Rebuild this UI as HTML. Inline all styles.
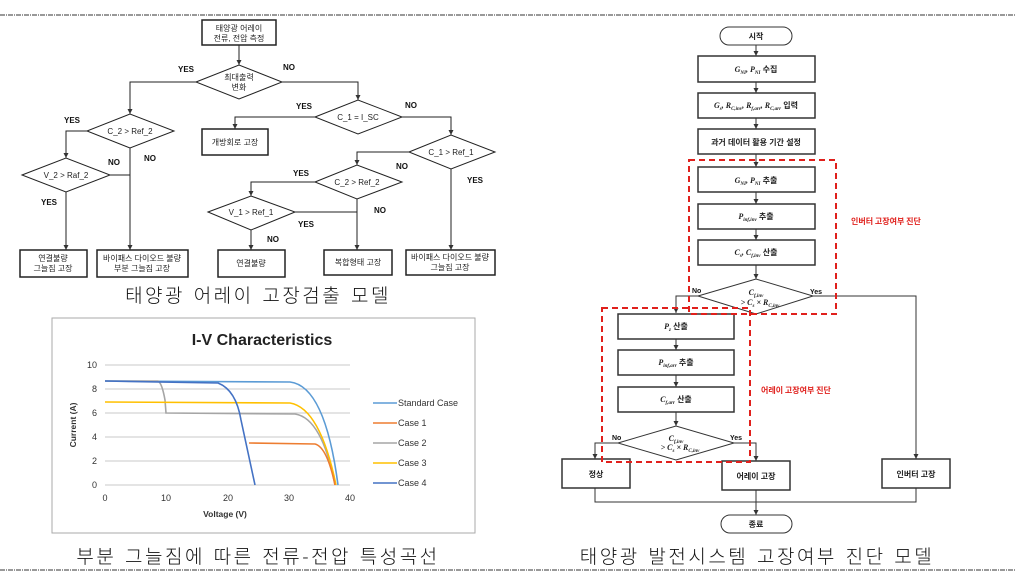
<!DOCTYPE html>
<html><head><meta charset="utf-8"><style>
body{margin:0;background:#fff}
svg{display:block}
.k{font-family:"Liberation Sans","Noto Sans CJK KR",sans-serif}
.s{font-size:8px;fill:#222}
.yn{font-size:8px;font-weight:bold;fill:#111}
.m{font-family:"Liberation Serif","Noto Sans CJK KR",serif;font-size:8px;font-style:italic;font-weight:bold}
.cap{font-family:"Noto Sans CJK KR",sans-serif;font-size:19px;font-weight:300;fill:#111;letter-spacing:2.5px;word-spacing:2px}
.red{font-family:"Noto Sans CJK KR",sans-serif;font-size:8px;fill:#e0201c;font-weight:bold}
</style></head><body>
<svg width="1015" height="579" viewBox="0 0 1015 579" xmlns="http://www.w3.org/2000/svg">
<defs><marker id="a" markerWidth="6" markerHeight="6" refX="5" refY="3" orient="auto"><path d="M0,0.5 L5,3 L0,5.5z" fill="#333"/></marker></defs>
<line x1="0" y1="15" x2="1015" y2="15" stroke="#333" stroke-dasharray="5,1,1,1"/>
<line x1="0" y1="570" x2="1015" y2="570" stroke="#333" stroke-dasharray="5,1,1,1"/>

<g fill="none" stroke="#222" stroke-width="1">
<line x1="239" y1="45" x2="239" y2="65" marker-end="url(#a)"/>
<polyline points="196,82 130,82 130,114" marker-end="url(#a)"/>
<polyline points="87,131 66,131 66,158" marker-end="url(#a)"/>
<line x1="130" y1="148" x2="130" y2="250" marker-end="url(#a)"/>
<line x1="110" y1="175" x2="130" y2="175"/>
<line x1="66" y1="192" x2="66" y2="250" marker-end="url(#a)"/>
<polyline points="282,82 358,82 358,100" marker-end="url(#a)"/>
<polyline points="315,117 235,117 235,129" marker-end="url(#a)"/>
<polyline points="402,117 451,117 451,135" marker-end="url(#a)"/>
<polyline points="409,152 357,152 357,165" marker-end="url(#a)"/>
<line x1="451" y1="169" x2="451" y2="250" marker-end="url(#a)"/>
<polyline points="315,182 251,182 251,196" marker-end="url(#a)"/>
<line x1="357" y1="199" x2="357" y2="250" marker-end="url(#a)"/>
<line x1="295" y1="212" x2="357" y2="212"/>
<line x1="251" y1="230" x2="251" y2="250" marker-end="url(#a)"/>
</g>
<g fill="#fff" stroke="#222" stroke-width="1.5">
<rect x="202" y="20" width="74" height="25"/>
<polygon points="196,82 239,65 282,82 239,99" stroke-width="1"/>
<polygon points="87,131 130,114 174,131 130,148" stroke-width="1"/>
<polygon points="22,175 66,158 110,175 66,192" stroke-width="1"/>
<polygon points="315,117 358,100 402,117 358,134" stroke-width="1"/>
<polygon points="409,152 451,135 495,152 451,169" stroke-width="1"/>
<polygon points="315,182 357,165 402,182 357,199" stroke-width="1"/>
<polygon points="208,212 251,196 295,212 251,230" stroke-width="1"/>
<rect x="202" y="129" width="66" height="26"/>
<rect x="20" y="250" width="67" height="27"/>
<rect x="97" y="250" width="91" height="27"/>
<rect x="218" y="250" width="67" height="27"/>
<rect x="324" y="250" width="68" height="25"/>
<rect x="406" y="250" width="89" height="25"/>
</g>
<g class="k s" text-anchor="middle">
<text x="239" y="31">태양광 어레이</text><text x="239" y="41">전류, 전압 측정</text>
<text x="239" y="80">최대출력</text><text x="239" y="90">변화</text>
<text x="130" y="134">C_2 &gt; Ref_2</text>
<text x="66" y="178">V_2 &gt; Raf_2</text>
<text x="358" y="120">C_1 = I_SC</text>
<text x="451" y="155">C_1 &gt; Ref_1</text>
<text x="357" y="185">C_2 &gt; Ref_2</text>
<text x="251" y="215">V_1 &gt; Ref_1</text>
<text x="235" y="145">개방회로 고장</text>
<text x="53" y="261">연결불량</text><text x="53" y="271">그늘짐 고장</text>
<text x="142" y="261">바이패스 다이오드 불량</text><text x="142" y="271">부분 그늘짐 고장</text>
<text x="251" y="266">연결불량</text>
<text x="358" y="265">복합형태 고장</text>
<text x="450" y="260">바이패스 다이오드 불량</text><text x="450" y="270">그늘짐 고장</text>
</g>
<g class="k yn">
<text x="178" y="72">YES</text><text x="283" y="70">NO</text>
<text x="64" y="123">YES</text><text x="108" y="165">NO</text><text x="144" y="161">NO</text>
<text x="41" y="205">YES</text>
<text x="296" y="109">YES</text><text x="405" y="108">NO</text>
<text x="396" y="169">NO</text><text x="467" y="183">YES</text>
<text x="293" y="176">YES</text><text x="374" y="213">NO</text>
<text x="298" y="227">YES</text><text x="267" y="242">NO</text>
</g>
<text class="cap" x="258" y="302" text-anchor="middle">태양광 어레이 고장검출 모델</text>

<rect x="52" y="318" width="423" height="215" fill="#fff" stroke="#aaa"/>
<text x="262" y="345" text-anchor="middle" font-family="Liberation Sans,sans-serif" font-weight="bold" font-size="16" fill="#222">I-V Characteristics</text>
<g stroke="#c8c8c8">
<line x1="105" y1="365" x2="350" y2="365"/><line x1="105" y1="389" x2="350" y2="389"/>
<line x1="105" y1="413" x2="350" y2="413"/><line x1="105" y1="437" x2="350" y2="437"/>
<line x1="105" y1="461" x2="350" y2="461"/><line x1="105" y1="485" x2="350" y2="485"/>
</g>
<g font-family="Liberation Sans,sans-serif" font-size="9" fill="#333" text-anchor="end">
<text x="97" y="368">10</text><text x="97" y="392">8</text><text x="97" y="416">6</text>
<text x="97" y="440">4</text><text x="97" y="464">2</text><text x="97" y="488">0</text>
</g>
<g font-family="Liberation Sans,sans-serif" font-size="9" fill="#333" text-anchor="middle">
<text x="105" y="501">0</text><text x="166" y="501">10</text><text x="228" y="501">20</text>
<text x="289" y="501">30</text><text x="350" y="501">40</text>
<text x="225" y="517" font-weight="bold" font-size="8.5">Voltage (V)</text>
<text transform="translate(76,425) rotate(-90)" font-weight="bold" font-size="8.5">Current (A)</text>
</g>
<g fill="none" stroke-width="1.6">
<path d="M105,381 L290,382 Q325,386 338,485" stroke="#5b9bd5"/>
<path d="M105,381 L158,381 Q162,383 165,400 L166,413 L295,414 Q322,418 335,485" stroke="#a5a5a5"/>
<path d="M105,402 L290,403 Q320,408 336,485" stroke="#ffc000"/>
<path d="M249,443 L315,444 Q327,447 335,485" stroke="#ed7d31"/>
<path d="M105,381 L218,383 Q236,390 241,420 L255,485" stroke="#4472c4"/>
</g>
<g font-family="Liberation Sans,sans-serif" font-size="9" fill="#333">
<line x1="373" y1="403" x2="397" y2="403" stroke="#5b9bd5" stroke-width="1.6"/><text x="398" y="406">Standard Case</text>
<line x1="373" y1="423" x2="397" y2="423" stroke="#ed7d31" stroke-width="1.6"/><text x="398" y="426">Case 1</text>
<line x1="373" y1="443" x2="397" y2="443" stroke="#a5a5a5" stroke-width="1.6"/><text x="398" y="446">Case 2</text>
<line x1="373" y1="463" x2="397" y2="463" stroke="#ffc000" stroke-width="1.6"/><text x="398" y="466">Case 3</text>
<line x1="373" y1="483" x2="397" y2="483" stroke="#4472c4" stroke-width="1.6"/><text x="398" y="486">Case 4</text>
</g>
<text class="cap" x="258" y="563" text-anchor="middle">부분 그늘짐에 따른 전류-전압 특성곡선</text>

<g fill="none" stroke="#333" stroke-width="1">
<line x1="756" y1="45" x2="756" y2="56" marker-end="url(#a)"/>
<line x1="756" y1="82" x2="756" y2="93" marker-end="url(#a)"/>
<line x1="756" y1="118" x2="756" y2="129" marker-end="url(#a)"/>
<line x1="756" y1="154" x2="756" y2="167" marker-end="url(#a)"/>
<line x1="756" y1="192" x2="756" y2="204" marker-end="url(#a)"/>
<line x1="756" y1="229" x2="756" y2="240" marker-end="url(#a)"/>
<line x1="756" y1="265" x2="756" y2="279" marker-end="url(#a)"/>
<polyline points="698,296 676,296 676,313" marker-end="url(#a)"/>
<polyline points="813,296 916,296 916,459" marker-end="url(#a)"/>
<line x1="676" y1="339" x2="676" y2="350" marker-end="url(#a)"/>
<line x1="676" y1="375" x2="676" y2="387" marker-end="url(#a)"/>
<line x1="676" y1="412" x2="676" y2="426" marker-end="url(#a)"/>
<polyline points="618,443 595,443 595,459" marker-end="url(#a)"/>
<polyline points="734,443 756,443 756,461" marker-end="url(#a)"/>
<polyline points="595,488 595,502 916,502 916,488"/>
<line x1="756" y1="490" x2="756" y2="515" marker-end="url(#a)"/>
</g>
<g fill="#fff" stroke="#333" stroke-width="1.5">
<rect x="720" y="27" width="72" height="18" rx="9" stroke-width="1"/>
<rect x="698" y="56" width="117" height="26"/>
<rect x="698" y="93" width="117" height="25"/>
<rect x="698" y="129" width="117" height="25"/>
<rect x="698" y="167" width="117" height="25"/>
<rect x="698" y="204" width="117" height="25"/>
<rect x="698" y="240" width="117" height="25"/>
<polygon points="698,296 756,279 813,296 756,314" stroke-width="1"/>
<rect x="618" y="314" width="116" height="25"/>
<rect x="618" y="350" width="116" height="25"/>
<rect x="618" y="387" width="116" height="25"/>
<polygon points="618,443 676,426 734,443 676,460" stroke-width="1"/>
<rect x="562" y="459" width="68" height="29"/>
<rect x="722" y="461" width="68" height="29"/>
<rect x="882" y="459" width="68" height="29"/>
<rect x="721" y="515" width="71" height="18" rx="9" stroke-width="1"/>
</g>
<g fill="none" stroke="#e0201c" stroke-width="2" stroke-dasharray="6,4">
<rect x="689" y="160" width="147" height="154"/>
<rect x="602" y="308" width="148" height="154"/>
</g>
<g class="k s" text-anchor="middle" font-weight="bold">
<text x="756" y="39">시작</text>
<text x="756" y="72"><tspan class="m">G<tspan font-size="5" dy="2">NI</tspan><tspan dy="-2">, P</tspan><tspan font-size="5" dy="2">NI</tspan></tspan><tspan dy="-2"> 수집</tspan></text>
<text x="756" y="108"><tspan class="m">G<tspan font-size="5" dy="2">s</tspan><tspan dy="-2">, R</tspan><tspan font-size="5" dy="2">C,inv</tspan><tspan dy="-2">, R</tspan><tspan font-size="5" dy="2">f,arr</tspan><tspan dy="-2">, R</tspan><tspan font-size="5" dy="2">C,arr</tspan></tspan><tspan dy="-2"> 입력</tspan></text>
<text x="756" y="145">과거 데이터 활용 기간 설정</text>
<text x="756" y="183"><tspan class="m">G<tspan font-size="5" dy="2">NI</tspan><tspan dy="-2">, P</tspan><tspan font-size="5" dy="2">NI</tspan></tspan><tspan dy="-2"> 추출</tspan></text>
<text x="756" y="219"><tspan class="m">P<tspan font-size="5" dy="2">inf,inv</tspan></tspan><tspan dy="-2"> 추출</tspan></text>
<text x="756" y="255"><tspan class="m">C<tspan font-size="5" dy="2">s</tspan><tspan dy="-2">, C</tspan><tspan font-size="5" dy="2">f,inv</tspan></tspan><tspan dy="-2"> 산출</tspan></text>
<text x="756" y="295" class="m" font-size="7">C<tspan font-size="5" dy="2">f,inv</tspan></text>
<text x="760" y="305" class="m" font-size="7">&gt; C<tspan font-size="5" dy="2">s</tspan><tspan dy="-2"> × R</tspan><tspan font-size="5" dy="2">C,inv</tspan></text>
<text x="676" y="329"><tspan class="m">P<tspan font-size="5" dy="2">z</tspan></tspan><tspan dy="-2"> 산출</tspan></text>
<text x="676" y="365"><tspan class="m">P<tspan font-size="5" dy="2">inf,arr</tspan></tspan><tspan dy="-2"> 추출</tspan></text>
<text x="676" y="402"><tspan class="m">C<tspan font-size="5" dy="2">f,arr</tspan></tspan><tspan dy="-2"> 산출</tspan></text>
<text x="676" y="441" class="m" font-size="7">C<tspan font-size="5" dy="2">f,inv</tspan></text>
<text x="680" y="450" class="m" font-size="7">&gt; C<tspan font-size="5" dy="2">s</tspan><tspan dy="-2"> × R</tspan><tspan font-size="5" dy="2">C,inv</tspan></text>
<text x="596" y="477">정상</text>
<text x="756" y="479">어레이 고장</text>
<text x="916" y="477">인버터 고장</text>
<text x="756" y="527">종료</text>
</g>
<g class="k" font-size="7" font-weight="bold" fill="#111">
<text x="692" y="293">No</text><text x="810" y="294">Yes</text>
<text x="612" y="440">No</text><text x="730" y="440">Yes</text>
</g>
<text class="red" x="851" y="224">인버터 고장여부 진단</text>
<text class="red" x="761" y="393">어레이 고장여부 진단</text>
<text class="cap" x="757" y="563" text-anchor="middle">태양광 발전시스템 고장여부 진단 모델</text>
</svg>
</body></html>
